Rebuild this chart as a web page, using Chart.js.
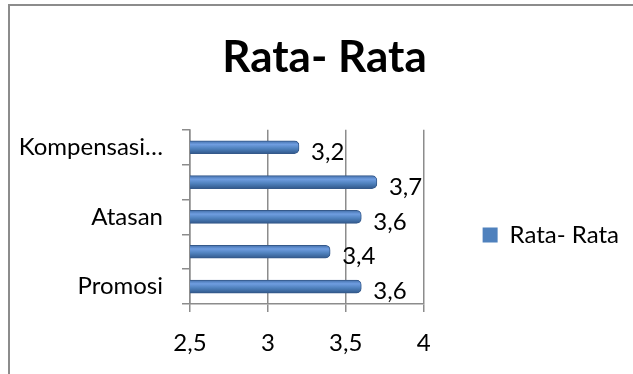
<!DOCTYPE html>
<html>
<head>
<meta charset="utf-8">
<script src="https://cdn.jsdelivr.net/npm/chart.js@4.4.0/dist/chart.umd.min.js"></script>
<style>
  html, body { margin: 0; padding: 0; background: #fff; overflow: hidden; }
  #frame { position: absolute; left: 8px; top: 4px; width: 700px; height: 450px;
           border-left: 2px solid #8c8c8c; border-top: 2px solid #8c8c8c; }
  #wrap { position: absolute; left: 0; top: 0; width: 633px; height: 374px; }
</style>
</head>
<body>
<div id="frame"></div>
<div id="wrap"><canvas id="chart"></canvas></div>
<script>
// categories top -> bottom (only every other label fits in the original)
const categories = ['Kompensasi…', '', 'Atasan', '', 'Promosi'];
const rataRata = [3.2, 3.7, 3.6, 3.4, 3.6];
const xTicks = [2.5, 3, 3.5, 4];

const FONT = 'Lato, "Open Sans", sans-serif';
const BLUE = '#4f81bd';
const fmt = v => String(v).replace('.', ',');

const valueLabels = {
  id: 'valueLabels',
  afterDatasetsDraw(chart) {
    const ctx = chart.ctx;
    const meta = chart.getDatasetMeta(0);
    ctx.save();
    ctx.font = '24px ' + FONT;
    ctx.fillStyle = '#000';
    ctx.textAlign = 'left';
    ctx.textBaseline = 'middle';
    meta.data.forEach((bar, i) => {
      ctx.fillText(fmt(rataRata[i]), bar.x + 12, bar.y + 5);
    });
    ctx.restore();
  }
};

let canvas = document.getElementById('chart');
let context = canvas.getContext('2d');

var chart = new Chart(context, {
  type: 'bar',
  data: {
    labels: categories,
    datasets: [{
      label: 'Rata- Rata',
      data: rataRata,
      // cylinder look: lighter band near the top of each bar
      backgroundColor: c => {
        const y = c.chart.scales && c.chart.scales.y;
        if (c.type !== 'data' || !y) return BLUE;
        const py = y.getPixelForValue(c.dataIndex);
        if (!isFinite(py)) return BLUE;
        const g = c.chart.ctx.createLinearGradient(0, py - 7, 0, py + 7);
        g.addColorStop(0, '#3d69a3');
        g.addColorStop(0.3, '#6f9de0');
        g.addColorStop(0.6, BLUE);
        g.addColorStop(1, '#2e5486');
        return g;
      },
      borderColor: '#35598a',
      borderWidth: 1,
      borderRadius: 5,
      borderSkipped: false,
      barThickness: 13
    }]
  },
  options: {
    indexAxis: 'y',
    responsive: true,
    maintainAspectRatio: false,
    animation: false,
    layout: { padding: { left: 20, right: 4, top: 0, bottom: 0 } },
    scales: {
      x: {
        min: 2.5,
        max: 4,
        afterBuildTicks: axis => { axis.ticks = xTicks.map(v => ({ value: v })); },
        afterFit: axis => { axis.height = 70; },
        ticks: {
          color: '#000',
          font: { family: FONT, size: 24 },
          padding: 17,
          callback: v => fmt(v)
        },
        grid: { color: '#8c8c8c', lineWidth: 1.5, tickLength: 8 },
        border: { color: '#8c8c8c', width: 1.5 }
      },
      y: {
        afterFit: axis => { axis.width = 170; },
        ticks: {
          color: '#000',
          font: { family: FONT, size: 24 },
          padding: 19,
          autoSkip: false
        },
        grid: { offset: true, drawOnChartArea: false, color: '#8c8c8c', lineWidth: 1.5, tickLength: 8 },
        border: { color: '#8c8c8c', width: 1.5 }
      }
    },
    plugins: {
      title: {
        display: true,
        text: 'Rata- Rata',
        color: '#000',
        font: { family: FONT, size: 44, weight: 'bold', lineHeight: 1.2 },
        padding: { top: 31, bottom: 46 }
      },
      legend: {
        position: 'right',
        align: 'start',
        maxWidth: 300,
        title: { display: true, text: '', font: { size: 10, lineHeight: 1.2 }, padding: 76 },
        labels: {
          color: '#000',
          font: { family: FONT, size: 24 },
          boxWidth: 15,
          boxHeight: 15,
          padding: 59,
          generateLabels: ch => Chart.defaults.plugins.legend.labels.generateLabels(ch)
            .map(l => Object.assign(l, { fillStyle: BLUE, strokeStyle: BLUE, lineWidth: 0 }))
        }
      },
      tooltip: { enabled: false }
    }
  },
  plugins: [valueLabels]
});
</script>
</body>
</html>
